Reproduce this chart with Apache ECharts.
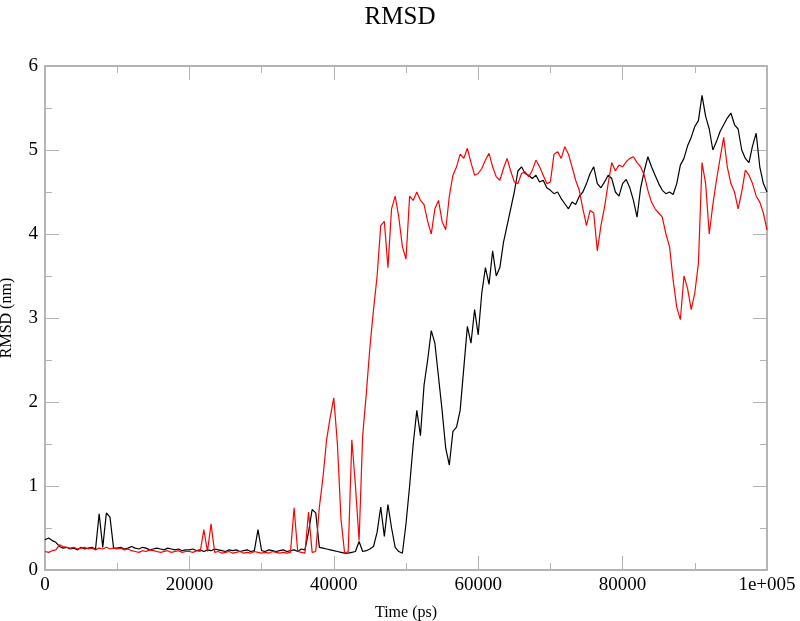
<!DOCTYPE html>
<html>
<head>
<meta charset="utf-8">
<title>RMSD</title>
<script src="https://cdn.jsdelivr.net/npm/echarts@6/dist/echarts.min.js"></script>
<style>
  html, body {margin: 0; padding: 0; background: #fff;}
  #chart {width: 800px; height: 621px;}
</style>
</head>
<body>
<div id="chart"></div>
<script>
// sampled every 500 ps, 0 .. 100000 ps
const TIME_STEP = 500

// black trace
const rmsdBlack = [
  0.36, 0.38, 0.35, 0.33, 0.28, 0.26, 0.27, 0.25, 0.26, 0.24, 0.27, 0.25, 0.26, 0.27, 0.25, 0.67, 0.27, 0.68, 0.63, 0.26,
  0.26, 0.27, 0.25, 0.26, 0.28, 0.26, 0.25, 0.27, 0.26, 0.24, 0.25, 0.26, 0.25, 0.24, 0.26, 0.25, 0.24, 0.25, 0.23, 0.24,
  0.24, 0.25, 0.23, 0.24, 0.22, 0.24, 0.23, 0.25, 0.24, 0.23, 0.22, 0.24, 0.23, 0.24, 0.22, 0.23, 0.24, 0.22, 0.23, 0.48,
  0.23, 0.22, 0.24, 0.23, 0.22, 0.23, 0.24, 0.22, 0.23, 0.24, 0.22, 0.25, 0.24, 0.45, 0.72, 0.68, 0.27, 0.26, 0.25, 0.24,
  0.23, 0.22, 0.21, 0.20, 0.20, 0.21, 0.22, 0.34, 0.22, 0.23, 0.25, 0.28, 0.45, 0.75, 0.40, 0.78, 0.50, 0.27, 0.22, 0.20,
  0.55, 1.00, 1.50, 1.90, 1.60, 2.20, 2.50, 2.85, 2.70, 2.30, 1.90, 1.45, 1.25, 1.65, 1.70, 1.90, 2.40, 2.90, 2.70, 3.10,
  2.80, 3.30, 3.60, 3.40, 3.80, 3.50, 3.60, 3.90, 4.10, 4.30, 4.50, 4.75, 4.80, 4.72, 4.70, 4.66, 4.70, 4.62, 4.64, 4.55,
  4.52, 4.48, 4.50, 4.42, 4.36, 4.30, 4.38, 4.35, 4.45, 4.50, 4.60, 4.72, 4.80, 4.60, 4.55, 4.62, 4.70, 4.66, 4.50, 4.45,
  4.60, 4.65, 4.55, 4.40, 4.20, 4.55, 4.75, 4.92, 4.80, 4.70, 4.60, 4.52, 4.48, 4.50, 4.47, 4.60, 4.82, 4.90, 5.05, 5.15,
  5.28, 5.35, 5.65, 5.40, 5.25, 5.00, 5.10, 5.22, 5.30, 5.38, 5.44, 5.30, 5.25, 5.00, 4.90, 4.85, 5.05, 5.20, 4.80, 4.60,
  4.50
]

// red trace
const rmsdRed = [
  0.22, 0.21, 0.23, 0.24, 0.30, 0.28, 0.27, 0.26, 0.27, 0.25, 0.26, 0.27, 0.25, 0.26, 0.24, 0.26, 0.25, 0.27, 0.25, 0.26,
  0.25, 0.26, 0.24, 0.25, 0.23, 0.22, 0.21, 0.23, 0.22, 0.24, 0.23, 0.22, 0.21, 0.22, 0.23, 0.21, 0.22, 0.23, 0.21, 0.22,
  0.22, 0.21, 0.23, 0.22, 0.48, 0.22, 0.55, 0.21, 0.22, 0.20, 0.21, 0.22, 0.20, 0.21, 0.22, 0.20, 0.21, 0.20, 0.22, 0.21,
  0.20, 0.21, 0.20, 0.22, 0.21, 0.20, 0.21, 0.20, 0.21, 0.74, 0.22, 0.21, 0.20, 0.69, 0.21, 0.22, 0.75, 1.10, 1.55, 1.82,
  2.05, 1.50, 0.60, 0.20, 0.22, 1.55, 1.00, 0.35, 1.60, 2.10, 2.65, 3.10, 3.50, 4.10, 4.15, 3.60, 4.30, 4.45, 4.20, 3.85,
  3.70, 4.45, 4.40, 4.50, 4.40, 4.35, 4.15, 4.00, 4.30, 4.40, 4.15, 4.05, 4.45, 4.70, 4.80, 4.95, 4.90, 5.02, 4.85, 4.70,
  4.72, 4.78, 4.88, 4.96, 4.80, 4.68, 4.64, 4.78, 4.90, 4.75, 4.62, 4.60, 4.72, 4.74, 4.68, 4.76, 4.88, 4.80, 4.70, 4.60,
  4.62, 4.95, 4.98, 4.90, 5.04, 4.95, 4.80, 4.64, 4.52, 4.30, 4.10, 4.28, 4.25, 3.80, 4.10, 4.32, 4.60, 4.85, 4.75, 4.82,
  4.80, 4.86, 4.90, 4.92, 4.85, 4.80, 4.70, 4.52, 4.38, 4.30, 4.25, 4.20, 4.00, 3.85, 3.45, 3.13, 2.98, 3.50, 3.35, 3.10,
  3.30, 3.65, 4.85, 4.60, 4.00, 4.35, 4.64, 4.90, 5.15, 4.80, 4.60, 4.50, 4.30, 4.50, 4.76, 4.70, 4.60, 4.45, 4.38, 4.25,
  4.05
]

const xTicks = [0, 20000, 40000, 60000, 80000, 100000]
const yTicks = [0, 1, 2, 3, 4, 5, 6]

const serif = '"Liberation Serif", "DejaVu Serif", serif'
const axisGrey = '#b4b4b4'

const toPairs = (vals) => vals.map((v, i) => [i * TIME_STEP, v])

const makeAxis = (kind, pos, showLabel) => {
  const ticks = kind === 'x' ? xTicks : yTicks
  return {
    type: 'value',
    position: pos,
    min: ticks[0],
    max: ticks[ticks.length - 1],
    interval: ticks[1] - ticks[0],
    axisLine: {show: true, onZero: false, lineStyle: {color: axisGrey, width: 2}},
    axisTick: {show: true, inside: true, length: 14, lineStyle: {color: axisGrey, width: 1}},
    minorTick: {show: true, splitNumber: 2, length: 7, lineStyle: {color: axisGrey, width: 1}},
    splitLine: {show: false},
    axisLabel: {
      show: showLabel,
      color: '#000',
      fontFamily: serif,
      fontSize: 19,
      margin: kind === 'x' ? 6 : 7,
      formatter(val) {
        return val === 100000 ? '1e+005' : String(val)
      }
    }
  }
}

const chart = echarts.init(document.getElementById('chart'))

chart.setOption({
  animation: false,
  backgroundColor: '#fff',
  title: {
    text: 'RMSD',
    left: 'center',
    top: 0,
    textStyle: {fontFamily: serif, fontSize: 25, fontWeight: 'normal', color: '#000'}
  },
  grid: {left: 45, right: 33, top: 66, bottom: 51, containLabel: false, outerBoundsMode: 'none'},
  xAxis: [
    Object.assign(makeAxis('x', 'bottom', true), {
      name: 'Time (ps)',
      nameLocation: 'middle',
      nameGap: 35,
      nameTextStyle: {fontFamily: serif, fontSize: 16, color: '#000'}
    }),
    makeAxis('x', 'top', false)
  ],
  yAxis: [
    Object.assign(makeAxis('y', 'left', true), {
      name: 'RMSD (nm)',
      nameLocation: 'middle',
      nameGap: 30,
      nameTextStyle: {fontFamily: serif, fontSize: 16, color: '#000'}
    }),
    makeAxis('y', 'right', false)
  ],
  series: [
    {
      name: 'black',
      type: 'line',
      xAxisIndex: 0,
      yAxisIndex: 0,
      data: toPairs(rmsdBlack),
      showSymbol: false,
      lineStyle: {color: '#000', width: 1.2},
      itemStyle: {color: '#000'}
    },
    {
      name: 'red',
      type: 'line',
      xAxisIndex: 0,
      yAxisIndex: 0,
      data: toPairs(rmsdRed),
      showSymbol: false,
      lineStyle: {color: '#ff0000', width: 1.2},
      itemStyle: {color: '#ff0000'}
    }
  ]
})
</script>
</body>
</html>
